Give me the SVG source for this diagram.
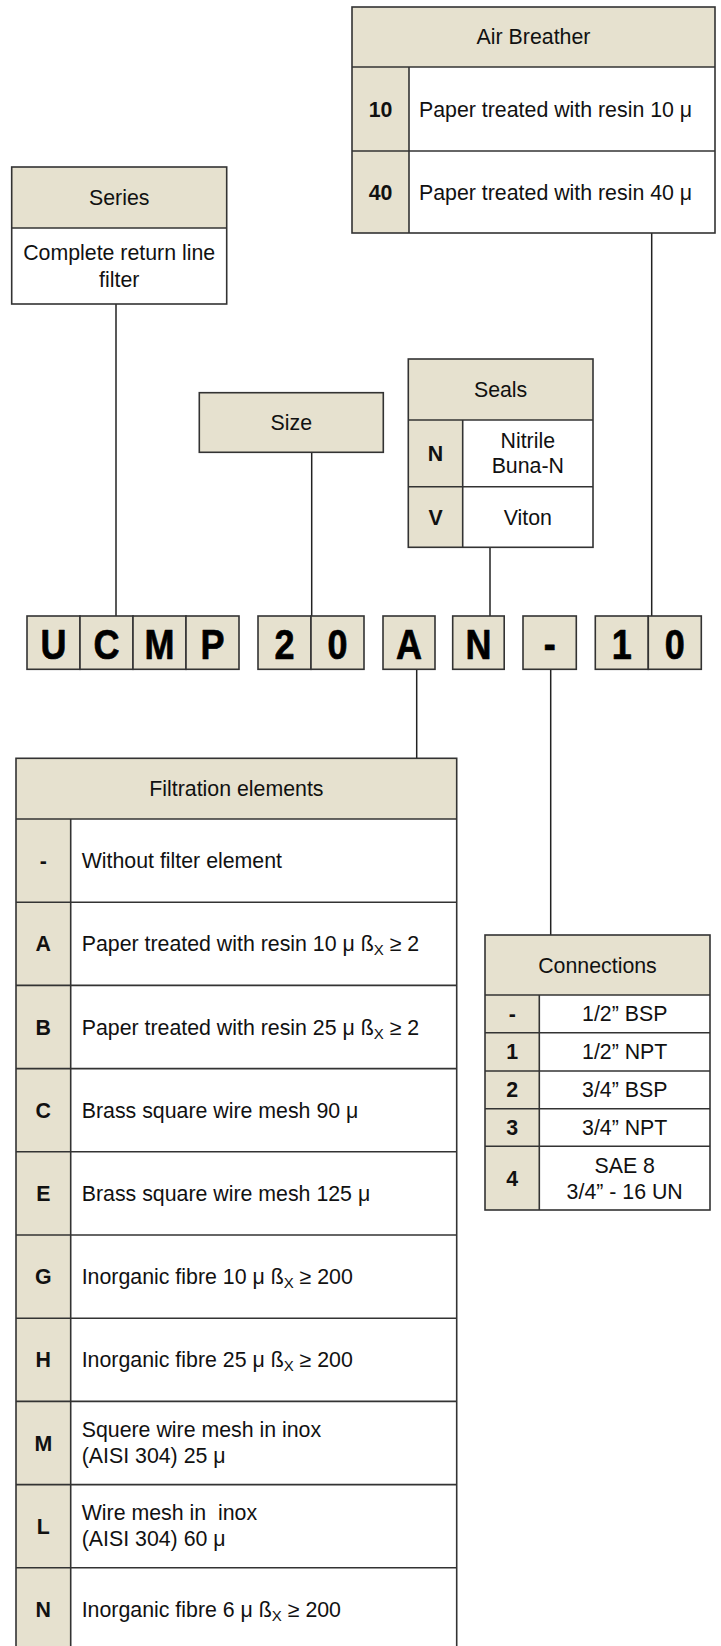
<svg xmlns="http://www.w3.org/2000/svg" width="721" height="1646" viewBox="0 0 721 1646">
  <style>
    .t { font-family: "Liberation Sans", Arial, sans-serif; font-size: 21.33px; fill: #111; }
    .c { text-anchor: middle; }
    .b { font-weight: bold; }
    .big { font-family: "Liberation Sans", Arial, sans-serif; font-size: 36px; font-weight: bold; fill: #000; stroke: #000; stroke-width: 0.6; stroke-linejoin: round; text-anchor: middle; }
    .sub { font-size: 15px; }
    .hd { fill: #E6E1CF; }
    .wh { fill: #FFFFFF; }
    .ln { stroke: #333; stroke-width: 1.6; fill: none; }
    .cell { fill: #E6E1CF; stroke: #333; stroke-width: 1.6; }
    .wire { stroke: #222; stroke-width: 1.5; fill: none; }
  </style>

  <!-- connectors from each option table to its position in the code -->
  <g id="connectors">
    <line class="wire" x1="116" y1="304" x2="116" y2="616"/>
    <line class="wire" x1="311.7" y1="452.3" x2="311.7" y2="616"/>
    <line class="wire" x1="490" y1="547.3" x2="490" y2="616"/>
    <line class="wire" x1="651.7" y1="233" x2="651.7" y2="616"/>
    <line class="wire" x1="416.7" y1="669.3" x2="416.7" y2="758.3"/>
    <line class="wire" x1="550.7" y1="669.3" x2="550.7" y2="935"/>
  </g>

  <!-- Air Breather -->
  <g id="air-breather">
    <rect class="wh" x="352" y="7" width="363" height="226"/>
    <rect class="hd" x="352" y="7" width="363" height="60"/>
    <rect class="hd" x="352" y="67" width="57" height="166"/>
    <rect class="ln" x="352" y="7" width="363" height="226"/>
    <line class="ln" x1="352" y1="67" x2="715" y2="67"/>
    <line class="ln" x1="352" y1="151" x2="715" y2="151"/>
    <line class="ln" x1="409" y1="67" x2="409" y2="233"/>
    <text class="t c" x="533.5" y="44.3">Air Breather</text>
    <text class="t c b" x="380.5" y="116.5">10</text>
    <text class="t" x="419" y="116.5">Paper treated with resin 10 μ</text>
    <text class="t c b" x="380.5" y="199.5">40</text>
    <text class="t" x="419" y="199.5">Paper treated with resin 40 μ</text>
  </g>

  <!-- Series -->
  <g id="series">
    <rect class="wh" x="11.7" y="167" width="215" height="137"/>
    <rect class="hd" x="11.7" y="167" width="215" height="61"/>
    <rect class="ln" x="11.7" y="167" width="215" height="137"/>
    <line class="ln" x1="11.7" y1="228" x2="226.7" y2="228"/>
    <text class="t c" x="119.2" y="205">Series</text>
    <text class="t c" x="119.2" y="260">Complete return line</text>
    <text class="t c" x="119.2" y="286.5">filter</text>
  </g>

  <!-- Size -->
  <g id="size">
    <rect class="cell" x="199.3" y="392.7" width="184" height="59.6"/>
    <text class="t c" x="291.3" y="430.1">Size</text>
  </g>

  <!-- Seals -->
  <g id="seals">
    <rect class="wh" x="408.3" y="359" width="184.7" height="188.3"/>
    <rect class="hd" x="408.3" y="359" width="184.7" height="61"/>
    <rect class="hd" x="408.3" y="420" width="54.4" height="127.3"/>
    <rect class="ln" x="408.3" y="359" width="184.7" height="188.3"/>
    <line class="ln" x1="408.3" y1="420" x2="593" y2="420"/>
    <line class="ln" x1="408.3" y1="486.7" x2="593" y2="486.7"/>
    <line class="ln" x1="462.7" y1="420" x2="462.7" y2="547.3"/>
    <text class="t c" x="500.6" y="397.1">Seals</text>
    <text class="t c b" x="435.5" y="461">N</text>
    <text class="t c" x="527.8" y="448.3">Nitrile</text>
    <text class="t c" x="527.8" y="473.3">Buna-N</text>
    <text class="t c b" x="435.5" y="524.6">V</text>
    <text class="t c" x="527.8" y="524.6">Viton</text>
  </g>

  <!-- order code: UCMP 20 A N - 10 (tall, condensed-looking glyphs) -->
  <g id="code-series">
    <rect class="cell" x="27" y="616" width="53" height="53.3"/>
    <rect class="cell" x="80" y="616" width="53" height="53.3"/>
    <rect class="cell" x="133" y="616" width="53" height="53.3"/>
    <rect class="cell" x="186" y="616" width="53" height="53.3"/>
    <text class="big" transform="translate(53.5 659) scale(1 1.2)">U</text>
    <text class="big" transform="translate(106.5 659) scale(1 1.2)">C</text>
    <text class="big" transform="translate(159.5 659) scale(1 1.2)">M</text>
    <text class="big" transform="translate(212.5 659) scale(1 1.2)">P</text>
  </g>
  <g id="code-size">
    <rect class="cell" x="258" y="616" width="53" height="53.3"/>
    <rect class="cell" x="311" y="616" width="53" height="53.3"/>
    <text class="big" transform="translate(284.5 659) scale(1 1.2)">2</text>
    <text class="big" transform="translate(337.5 659) scale(1 1.2)">0</text>
  </g>
  <g id="code-filtration">
    <rect class="cell" x="383" y="616" width="52" height="53.3"/>
    <text class="big" transform="translate(409 659) scale(1 1.2)">A</text>
  </g>
  <g id="code-seals">
    <rect class="cell" x="452.7" y="616" width="51.5" height="53.3"/>
    <text class="big" transform="translate(478.5 659) scale(1 1.2)">N</text>
  </g>
  <g id="code-connections">
    <rect class="cell" x="523" y="616" width="53.3" height="53.3"/>
    <text class="big" transform="translate(549.7 659) scale(1 1.2)">-</text>
  </g>
  <g id="code-air-breather">
    <rect class="cell" x="595.3" y="616" width="53" height="53.3"/>
    <rect class="cell" x="648.3" y="616" width="53" height="53.3"/>
    <text class="big" transform="translate(621.8 659) scale(1 1.2)">1</text>
    <text class="big" transform="translate(674.8 659) scale(1 1.2)">0</text>
  </g>

  <!-- Filtration elements -->
  <g id="filtration">
    <rect class="wh" x="16" y="758.3" width="440.7" height="895"/>
    <rect class="hd" x="16" y="758.3" width="440.7" height="60.7"/>
    <rect class="hd" x="16" y="819" width="54.7" height="834"/>
    <rect class="ln" x="16" y="758.3" width="440.7" height="895"/>
    <line class="ln" x1="70.7" y1="819" x2="70.7" y2="1653"/>
    <line class="ln" x1="16" y1="819" x2="456.7" y2="819"/>
    <line class="ln" x1="16" y1="902.2" x2="456.7" y2="902.2"/>
    <line class="ln" x1="16" y1="985.4" x2="456.7" y2="985.4"/>
    <line class="ln" x1="16" y1="1068.6" x2="456.7" y2="1068.6"/>
    <line class="ln" x1="16" y1="1151.8" x2="456.7" y2="1151.8"/>
    <line class="ln" x1="16" y1="1235" x2="456.7" y2="1235"/>
    <line class="ln" x1="16" y1="1318.2" x2="456.7" y2="1318.2"/>
    <line class="ln" x1="16" y1="1401.4" x2="456.7" y2="1401.4"/>
    <line class="ln" x1="16" y1="1484.6" x2="456.7" y2="1484.6"/>
    <line class="ln" x1="16" y1="1567.8" x2="456.7" y2="1567.8"/>
    <text class="t c" x="236.4" y="796.3">Filtration elements</text>

    <text class="t c b" x="43.3" y="868.2">-</text>
    <text class="t" x="81.7" y="868.2">Without filter element</text>

    <text class="t c b" x="43.3" y="951.4">A</text>
    <text class="t" x="81.7" y="951.4">Paper treated with resin 10 μ ß<tspan class="sub" dy="4">X</tspan><tspan dy="-4"> ≥ 2</tspan></text>

    <text class="t c b" x="43.3" y="1034.6">B</text>
    <text class="t" x="81.7" y="1034.6">Paper treated with resin 25 μ ß<tspan class="sub" dy="4">X</tspan><tspan dy="-4"> ≥ 2</tspan></text>

    <text class="t c b" x="43.3" y="1117.8">C</text>
    <text class="t" x="81.7" y="1117.8">Brass square wire mesh 90 μ</text>

    <text class="t c b" x="43.3" y="1201">E</text>
    <text class="t" x="81.7" y="1201">Brass square wire mesh 125 μ</text>

    <text class="t c b" x="43.3" y="1284.2">G</text>
    <text class="t" x="81.7" y="1284.2">Inorganic fibre 10 μ ß<tspan class="sub" dy="4">X</tspan><tspan dy="-4"> ≥ 200</tspan></text>

    <text class="t c b" x="43.3" y="1367.4">H</text>
    <text class="t" x="81.7" y="1367.4">Inorganic fibre 25 μ ß<tspan class="sub" dy="4">X</tspan><tspan dy="-4"> ≥ 200</tspan></text>

    <text class="t c b" x="43.3" y="1450.6">M</text>
    <text class="t" x="81.7" y="1437">Squere wire mesh in inox</text>
    <text class="t" x="81.7" y="1462.6">(AISI 304) 25 μ</text>

    <text class="t c b" x="43.3" y="1533.8">L</text>
    <text class="t" x="81.7" y="1520.2" xml:space="preserve">Wire mesh in  inox</text>
    <text class="t" x="81.7" y="1545.8">(AISI 304) 60 μ</text>

    <text class="t c b" x="43.3" y="1617">N</text>
    <text class="t" x="81.7" y="1617">Inorganic fibre 6 μ ß<tspan class="sub" dy="4">X</tspan><tspan dy="-4"> ≥ 200</tspan></text>
  </g>

  <!-- Connections -->
  <g id="connections">
    <rect class="wh" x="485" y="935" width="225" height="275"/>
    <rect class="hd" x="485" y="935" width="225" height="60"/>
    <rect class="hd" x="485" y="995" width="54.3" height="215"/>
    <rect class="ln" x="485" y="935" width="225" height="275"/>
    <line class="ln" x1="485" y1="995" x2="710" y2="995"/>
    <line class="ln" x1="485" y1="1032.7" x2="710" y2="1032.7"/>
    <line class="ln" x1="485" y1="1071" x2="710" y2="1071"/>
    <line class="ln" x1="485" y1="1108.7" x2="710" y2="1108.7"/>
    <line class="ln" x1="485" y1="1146.3" x2="710" y2="1146.3"/>
    <line class="ln" x1="539.3" y1="995" x2="539.3" y2="1210"/>
    <text class="t c" x="597.5" y="972.6">Connections</text>
    <text class="t c b" x="512.2" y="1021.4">-</text>
    <text class="t c" x="624.7" y="1021.4">1/2” BSP</text>
    <text class="t c b" x="512.2" y="1059.4">1</text>
    <text class="t c" x="624.7" y="1059.4">1/2” NPT</text>
    <text class="t c b" x="512.2" y="1097.4">2</text>
    <text class="t c" x="624.7" y="1097.4">3/4” BSP</text>
    <text class="t c b" x="512.2" y="1135.1">3</text>
    <text class="t c" x="624.7" y="1135.1">3/4” NPT</text>
    <text class="t c b" x="512.2" y="1185.8">4</text>
    <text class="t c" x="624.7" y="1173.3">SAE 8</text>
    <text class="t c" x="624.7" y="1199.3">3/4” - 16 UN</text>
  </g>
</svg>
